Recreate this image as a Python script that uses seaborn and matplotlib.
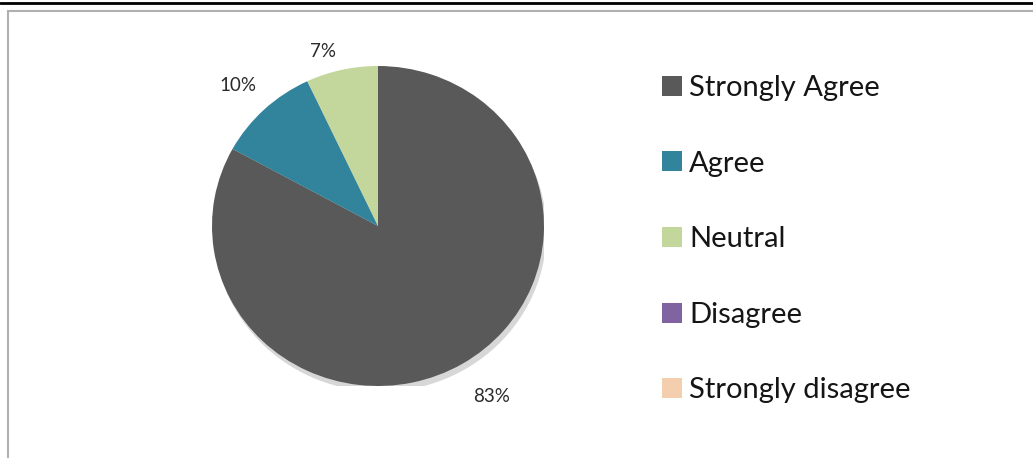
import matplotlib
matplotlib.use("Agg")
import matplotlib.pyplot as plt
import seaborn as sns
import numpy as np
from matplotlib.patches import Rectangle, Ellipse
from matplotlib.lines import Line2D

categories = ["Strongly Agree", "Agree", "Neutral", "Disagree", "Strongly disagree"]
values = [83, 10, 7, 0, 0]
colors = ["#595959", "#31849b", "#c3d69b", "#8064a2", "#f4cfae"]
label_dist = [1.27, 1.215, 1.137, 1.1, 1.1]
label_angle_shift = [2.1, 0.7, 4.3, 0, 0]

sns.set_theme(style="white")
plt.rcParams["font.family"] = ["Lato", "DejaVu Sans"]

W, H = 1033, 458
fig = plt.figure(figsize=(W / 100, H / 100), dpi=100)
fig.patch.set_facecolor("white")

# page frame
fig.add_artist(Rectangle((8 / W, -0.05), 1.1, (H - 11) / H + 0.05,
                         transform=fig.transFigure, fill=False,
                         edgecolor="#b0b0b0", lw=1.5))
fig.add_artist(Line2D([0, 1], [1 - 3 / H, 1 - 3 / H], transform=fig.transFigure,
                      color="black", lw=2))

cx, cy, rx, ry = 378, 226, 166, 160
ax = fig.add_axes([(cx - rx) / W, (H - cy - ry) / H, 2 * rx / W, 2 * ry / H])
# soft shadow under the pie
ax.add_patch(Ellipse((0.015, -0.035), 2.0, 2.0, facecolor="#bdbdbd", edgecolor="none",
                     alpha=0.6, zorder=0))
wedges, _ = ax.pie(values, colors=colors, startangle=90, counterclock=False,
                   wedgeprops=dict(linewidth=0, zorder=1))
ax.set_xlim(-1, 1)
ax.set_ylim(-1, 1)
ax.set_aspect("auto")
ax.axis("off")

for w, v, d, s in zip(wedges, values, label_dist, label_angle_shift):
    if v == 0:
        continue
    mid = np.deg2rad((w.theta1 + w.theta2) / 2 + s)
    ax.text(d * np.cos(mid), d * np.sin(mid), f"{v}%", ha="center", va="center",
            fontsize=13.5, color="#2a2a2a", clip_on=False)

leg = fig.legend(wedges, categories, loc="upper left",
                 bbox_to_anchor=(662 / W, 1 - 75 / H),
                 frameon=False, fontsize=21, handlelength=0.68, handleheight=0.68,
                 handletextpad=0.25, labelspacing=1.70, borderaxespad=0, borderpad=0)
for t in leg.get_texts():
    t.set_color("#151515")

fig.savefig("out.png", dpi=100, facecolor="white")
